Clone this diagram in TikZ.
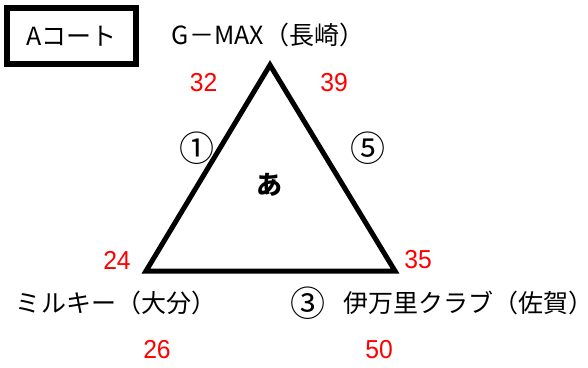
\documentclass[tikz,border=0pt]{standalone}
\usepackage{fontspec}
\setmainfont{Noto Sans CJK JP}
\newfontfamily\numfont[FakeStretch=0.95]{Liberation Sans}
\usetikzlibrary{positioning}

\begin{document}
\begin{tikzpicture}[x=1pt, y=-1pt,
	team/.style={font=\fontsize{25}{25}\selectfont, inner sep=0pt},
	score/.style={text=red, font=\numfont\fontsize{26}{26}\selectfont, inner sep=0pt},
	match/.style={font=\fontsize{35}{35}\selectfont, inner sep=0pt}]
		\useasboundingbox (0,0) rectangle (588,367);
		\clip (0,0) rectangle (588,367);

		% Draw the court label
		\node[draw, line width=6pt, minimum width=129pt, minimum height=56pt, team] (court) at (71.5,36) {Aコート};

		% Draw the triangle
		\coordinate (top) at (270,65);
		\coordinate (left) at (146,271);
		\coordinate (right) at (395,271);
		\draw[line width=5pt] (top) -- (right) -- (left) -- cycle;
		\node[team, font=\bfseries\fontsize{26}{26}\selectfont] (group) at (269,185) {あ};

		% Team names
		\node[team] (north) at (268,35) {G－MAX（長崎）};
		\node[team] (west) at (116,303) {ミルキー（大分）};
		\node[team, anchor=west] (east) at (343,303) {伊万里クラブ（佐賀）};

		% Match numbers
		\node[match] (m1) at (197,148) {①};
		\node[match] (m5) at (368,148) {⑤};
		\node[match] (m3) at (308,303) {③};

		% Scores
		\node[score] (s32) at (203.5,83) {32};
		\node[score] (s39) at (334,83) {39};
		\node[score] (s24) at (117,260) {24};
		\node[score] (s35) at (418,260) {35};
		\node[score] (s26) at (157,350) {26};
		\node[score] (s50) at (379,350) {50};

	\end{tikzpicture}
\end{document}
